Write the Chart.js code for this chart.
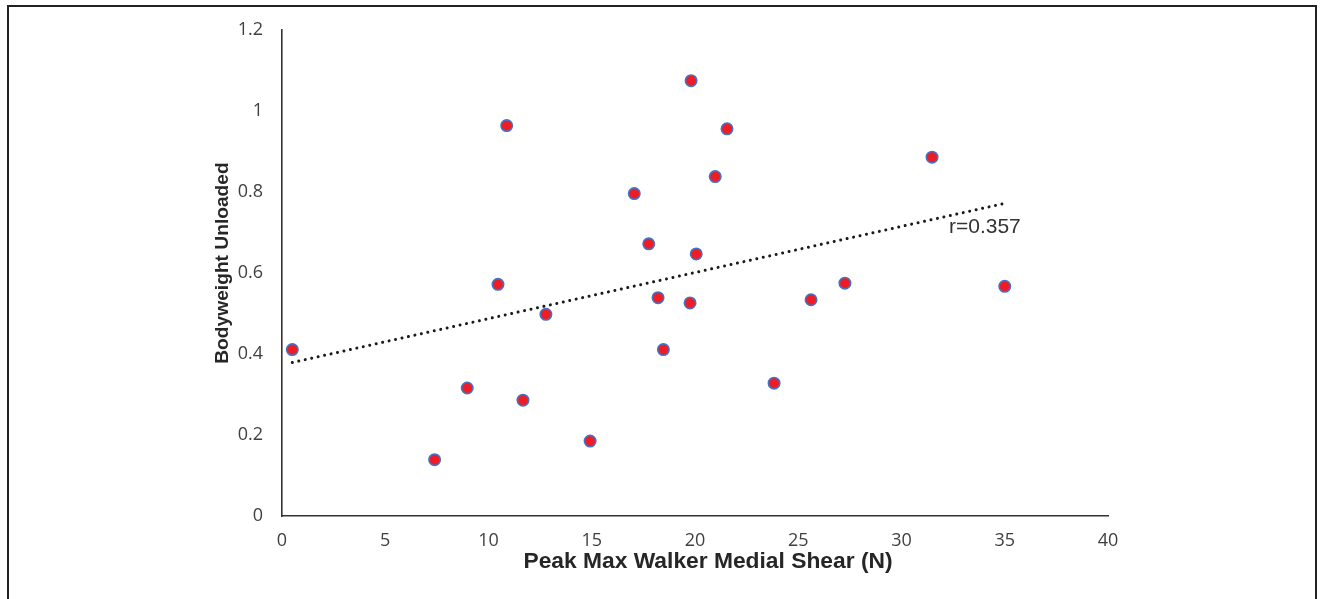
<!DOCTYPE html>
<html>
<head>
<meta charset="utf-8">
<script src="https://cdn.jsdelivr.net/npm/chart.js@4.4.1/dist/chart.umd.min.js"></script>
<style>
  html, body { margin: 0; padding: 0; background: #fff; width: 1320px; height: 599px; overflow: hidden; }
  #frame { position: absolute; left: 7px; top: 5px; width: 1310px; height: 640px; border: 2px solid #222; box-sizing: border-box; }
  #wrap { position: absolute; left: 0; top: 0; width: 1320px; height: 599px; }
</style>
</head>
<body>
<div id="frame"></div>
<div id="wrap"><canvas id="c" width="1320" height="599"></canvas></div>
<script>
// Data
const shearN = [0.5, 7.39, 8.97, 10.46, 10.88, 11.67, 12.78, 14.92, 17.06, 17.76, 18.21, 18.47, 19.81, 19.76, 20.06, 20.98, 21.55, 23.83, 25.62, 27.26, 31.48, 35.0];
const bwUnloaded = [0.411, 0.139, 0.316, 0.572, 0.964, 0.286, 0.498, 0.185, 0.796, 0.672, 0.539, 0.411, 1.075, 0.526, 0.647, 0.838, 0.956, 0.328, 0.534, 0.575, 0.886, 0.567];
const trendX = [0.5, 35];
const trendY = [0.379, 0.772];
const xTicks = [0, 5, 10, 15, 20, 25, 30, 35, 40];
const yTicks = [0, 0.2, 0.4, 0.6, 0.8, 1, 1.2];
const yTickLabels = ['0', '0.2', '0.4', '0.6', '0.8', '1', '1.2'];
const xTitle = 'Peak Max Walker Medial Shear (N)';
const yTitle = 'Bodyweight Unloaded';
const rLabel = 'r=0.357';
const rLabelAt = [32.3, 0.70];

const points = shearN.map((x, i) => ({ x: x, y: bwUnloaded[i] }));
const trend = trendX.map((x, i) => ({ x: x, y: trendY[i] }));

const titlesPlugin = {
  id: 'titles',
  afterDraw(chart) {
    const ctx = chart.ctx;
    const a = chart.chartArea;
    const xs = chart.scales.x, ys = chart.scales.y;
    ctx.save();
    ctx.fillStyle = '#262626';
    ctx.textAlign = 'center';
    ctx.textBaseline = 'middle';
    ctx.font = 'bold 22.8px "Liberation Sans", Arial, sans-serif';
    ctx.fillText(xTitle, (a.left + a.right) / 2 + 13, 562);
    ctx.translate(223, (a.top + a.bottom) / 2 - 10);
    ctx.rotate(-Math.PI / 2);
    ctx.font = 'bold 19.2px "Liberation Sans", Arial, sans-serif';
    ctx.fillText(yTitle, 0, 0);
    ctx.restore();
    ctx.save();
    ctx.fillStyle = '#333';
    ctx.textAlign = 'left';
    ctx.textBaseline = 'alphabetic';
    ctx.font = '21px "Liberation Sans", Arial, sans-serif';
    ctx.fillText(rLabel, xs.getPixelForValue(rLabelAt[0]), ys.getPixelForValue(rLabelAt[1]));
    ctx.restore();
  }
};

new Chart(document.getElementById('c'), {
  type: 'scatter',
  data: {
    datasets: [
      {
        type: 'line',
        data: trend,
        borderColor: '#1a1a1a',
        borderWidth: 3,
        borderDash: [0.01, 6.6],
        borderCapStyle: 'round',
        pointRadius: 0,
        fill: false,
        order: 2
      },
      {
        data: points,
        backgroundColor: '#EE1C25',
        borderColor: '#4472C4',
        borderWidth: 1.6,
        pointRadius: 5.7,
        pointHoverRadius: 5.7,
        order: 1
      }
    ]
  },
  options: {
    responsive: false,
    animation: false,
    events: [],
    layout: { padding: { left: 0, top: 30, right: 212, bottom: 0 } },
    plugins: { legend: { display: false }, tooltip: { enabled: false } },
    scales: {
      x: {
        type: 'linear',
        min: 0, max: 40,
        afterBuildTicks: (s) => { s.ticks = xTicks.map(v => ({ value: v })); },
        afterFit: (s) => { s.height = 83; },
        grid: { display: false, drawTicks: false },
        border: { display: true, color: '#333', width: 1.6 },
        ticks: { color: '#404040', font: { family: '"Open Sans", sans-serif', size: 18 }, padding: 14, maxRotation: 0, callback: (v) => String(v) }
      },
      y: {
        type: 'linear',
        min: 0, max: 1.2,
        afterBuildTicks: (s) => { s.ticks = yTicks.map(v => ({ value: v })); },
        afterFit: (s) => { s.width = 282; },
        grid: { display: false, drawTicks: false },
        border: { display: true, color: '#333', width: 1.6 },
        ticks: { color: '#404040', font: { family: '"Open Sans", sans-serif', size: 18 }, padding: 19,
                 callback: (v, i) => yTickLabels[i] }
      }
    }
  },
  plugins: [titlesPlugin]
});
</script>
</body>
</html>
